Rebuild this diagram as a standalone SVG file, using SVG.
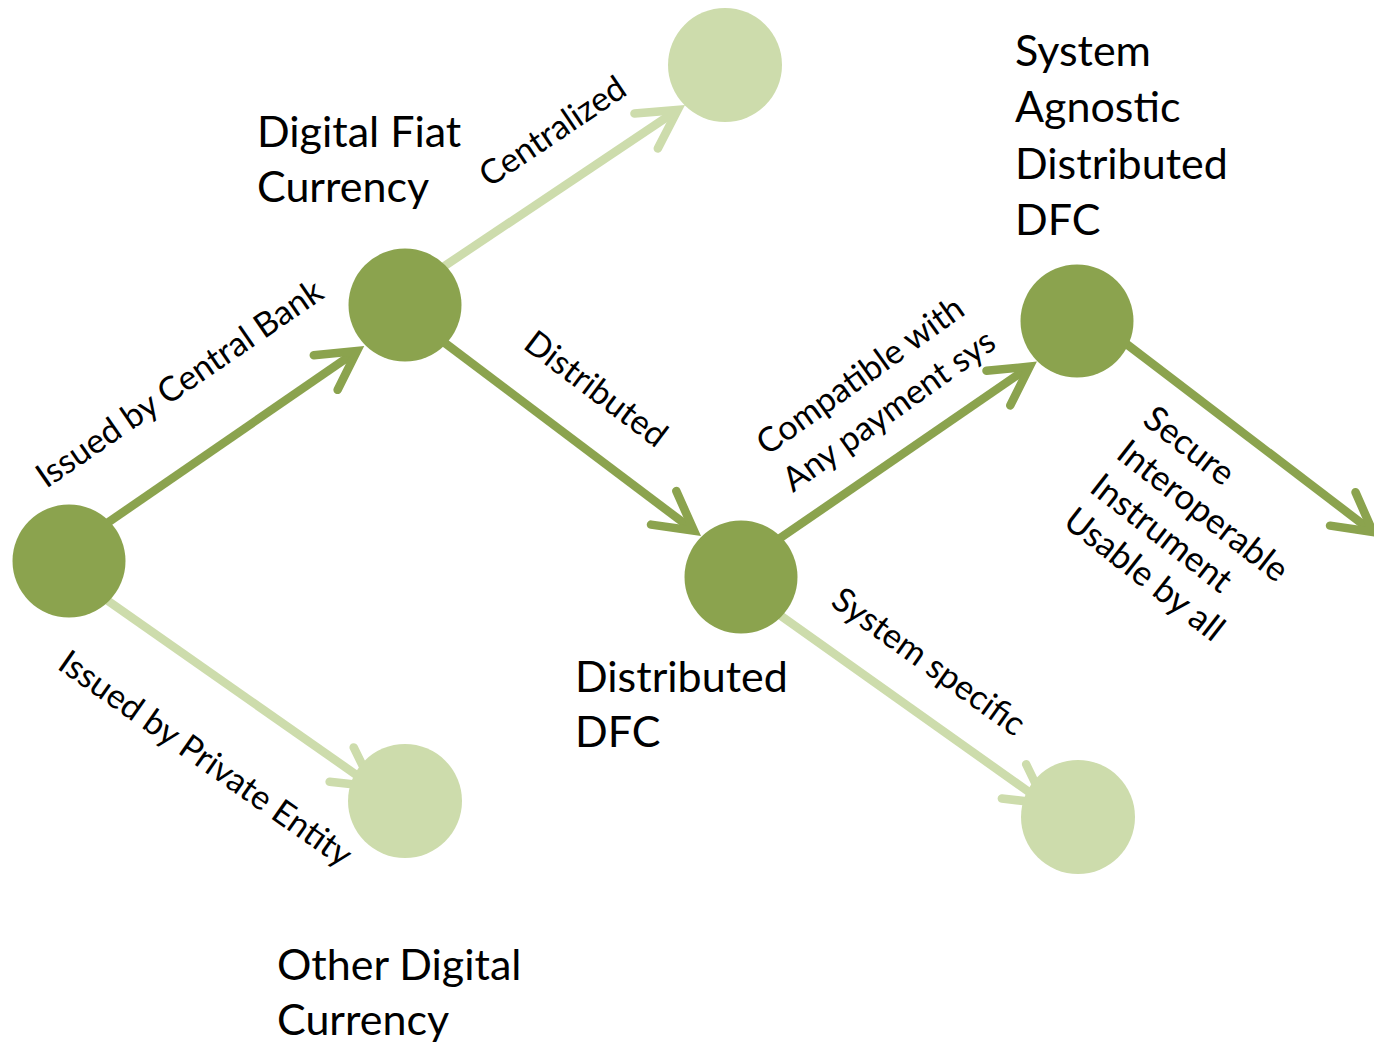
<svg xmlns="http://www.w3.org/2000/svg" width="1374" height="1044" viewBox="0 0 1374 1044">
  <style>
    .dark { fill: #8BA34E; }
    .light { fill: #CDDCAC; }
    .edge-dark { stroke: #8BA34E; stroke-width: 8.5; fill: none; }
    .edge-light { stroke: #CDDCAC; stroke-width: 8.5; fill: none; }
    .title { font-family: Lato, "Liberation Sans", sans-serif; font-size: 43px; fill: #000; }
    .label { font-family: Lato, "Liberation Sans", sans-serif; font-size: 34px; fill: #000; }
    .label-lg { font-family: Lato, "Liberation Sans", sans-serif; font-size: 35px; fill: #000; }
  </style>
  <defs>
    <marker id="head-dark" markerUnits="userSpaceOnUse" orient="auto" refX="0" refY="0" markerWidth="1" markerHeight="1" overflow="visible">
      <path d="M-38,-21 L0,0 L-38,21" fill="none" stroke="#8BA34E" stroke-width="8.5" stroke-linecap="round" stroke-linejoin="miter"/>
    </marker>
    <marker id="head-light" markerUnits="userSpaceOnUse" orient="auto" refX="0" refY="0" markerWidth="1" markerHeight="1" overflow="visible">
      <path d="M-38,-21 L0,0 L-38,21" fill="none" stroke="#CDDCAC" stroke-width="8.5" stroke-linecap="round" stroke-linejoin="miter"/>
    </marker>
  </defs>

  <rect width="1374" height="1044" fill="#fff"/>

  <!-- connectors (drawn under the nodes) -->
  <g id="connectors">
    <line class="edge-dark" x1="100" y1="528" x2="357" y2="351" marker-end="url(#head-dark)"/>
    <line class="edge-light" x1="430.5" y1="275.4" x2="677.7" y2="109.9" marker-end="url(#head-light)"/>
    <line class="edge-dark" x1="433" y1="334" x2="694" y2="530.7" marker-end="url(#head-dark)"/>
    <line class="edge-light" x1="94.6" y1="591.6" x2="372.8" y2="786.4" marker-end="url(#head-light)"/>
    <line class="edge-dark" x1="770" y1="545.1" x2="1029.7" y2="366.6" marker-end="url(#head-dark)"/>
    <line class="edge-light" x1="768.8" y1="607.3" x2="1045" y2="803.4" marker-end="url(#head-light)"/>
    <line class="edge-dark" x1="1116" y1="336" x2="1373" y2="532" marker-end="url(#head-dark)"/>
  </g>

  <!-- edge labels -->
  <g id="edge-labels">
    <text class="label" text-anchor="middle" transform="translate(186,393) rotate(-34.5)">Issued by Central Bank</text>
    <text class="label" text-anchor="middle" transform="translate(559,141) rotate(-34)">Centralized</text>
    <text class="label" text-anchor="middle" transform="translate(589,398) rotate(37)">Distributed</text>
    <text class="label" text-anchor="middle" transform="translate(199,768) rotate(35)">Issued by Private Entity</text>
    <text class="label" text-anchor="middle" transform="translate(922,671) rotate(35.5)">System specific</text>
    <g transform="translate(766,457) rotate(-35.5)">
      <text class="label" x="124" y="0" text-anchor="middle">Compatible with</text>
      <text class="label" x="127" y="45" text-anchor="middle">Any payment sys</text>
    </g>
    <g transform="translate(1141,423) rotate(38)">
      <text class="label-lg" x="0" y="0">Secure</text>
      <text class="label-lg" x="0" y="43">Interoperable</text>
      <text class="label-lg" x="0" y="86">Instrument</text>
      <text class="label-lg" x="0" y="129">Usable by all</text>
    </g>
  </g>

  <!-- nodes -->
  <g id="node-origin">
    <circle class="dark" cx="69" cy="561" r="56.5"/>
  </g>
  <g id="node-digital-fiat">
    <circle class="dark" cx="405" cy="305" r="56.5"/>
    <text class="title" x="257" y="147">Digital Fiat</text>
    <text class="title" x="257" y="202">Currency</text>
  </g>
  <g id="node-centralized">
    <circle class="light" cx="725" cy="65" r="57"/>
  </g>
  <g id="node-other-digital">
    <circle class="light" cx="405" cy="801" r="57"/>
    <text class="title" x="277" y="980">Other Digital</text>
    <text class="title" x="277" y="1035">Currency</text>
  </g>
  <g id="node-distributed">
    <circle class="dark" cx="741" cy="577" r="56.5"/>
    <text class="title" x="575" y="692">Distributed</text>
    <text class="title" x="575" y="747">DFC</text>
  </g>
  <g id="node-system-agnostic">
    <circle class="dark" cx="1077" cy="321" r="56.5"/>
    <text class="title" x="1015" y="66">System</text>
    <text class="title" x="1015" y="122">Agnostic</text>
    <text class="title" x="1015" y="179">Distributed</text>
    <text class="title" x="1015" y="235">DFC</text>
  </g>
  <g id="node-system-specific">
    <circle class="light" cx="1078" cy="817" r="57"/>
  </g>
</svg>
